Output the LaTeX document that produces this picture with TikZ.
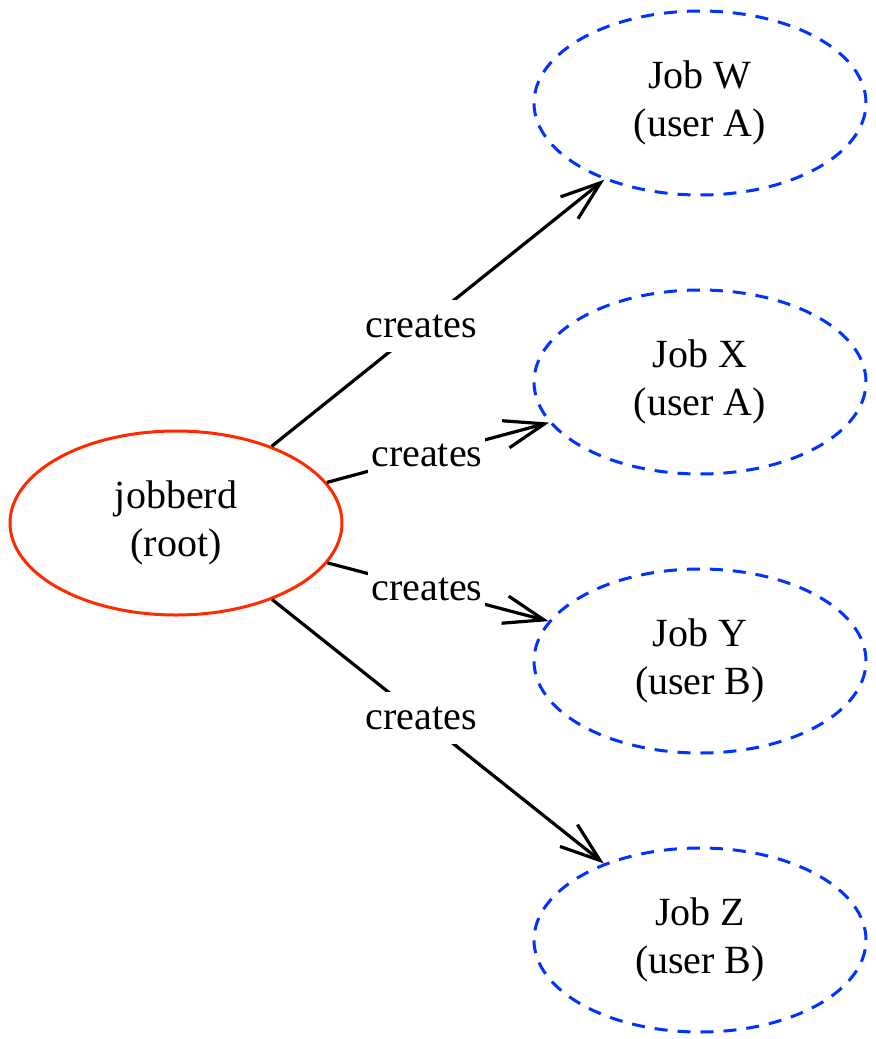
\documentclass[tikz,border=0pt]{standalone}
\usepackage{fontspec}
\setmainfont{Liberation Serif}
\usepackage{xcolor}
\usepackage{tikz}
\usetikzlibrary{positioning,shapes.geometric,arrows.meta}
\definecolor{rootred}{RGB}{255,42,0}
\definecolor{jobblue}{RGB}{0,51,255}

\begin{document}
\begin{tikzpicture}[
x=0.5pt, y=-0.5pt,
every node/.style={font=\fontsize{20}{24}\selectfont},
daemon/.style={ellipse, draw=rootred, line width=1.5pt, minimum width=166pt, minimum height=92pt, align=center},
job/.style={ellipse, draw=jobblue, line width=1.5pt, dash pattern=on 6.5pt off 5pt, minimum width=166pt, minimum height=92pt, align=center},
edge/.style={line width=1.6pt, -{Straight Barb[length=20pt, width=14pt]}},
lbl/.style={fill=white, inner xsep=1.5pt, inner ysep=0pt, minimum height=26pt, pos=0.45},
]
\useasboundingbox (0,0) rectangle (876,1039);

\node[daemon] (jobberd) at (176,523) {jobberd\\(root)};
\node[job] (jobW) at (700,103) {Job W\\(user A)};
\node[job] (jobX) [below=46pt of jobW] {Job X\\(user A)};
\node[job] (jobY) [below=46pt of jobX] {Job Y\\(user B)};
\node[job] (jobZ) [below=46pt of jobY] {Job Z\\(user B)};

\draw[edge] (jobberd) -- node[lbl] {creates} (jobW);
\draw[edge] (jobberd) -- node[lbl] {creates} (jobX);
\draw[edge] (jobberd) -- node[lbl] {creates} (jobY);
\draw[edge] (jobberd) -- node[lbl] {creates} (jobZ);

\end{tikzpicture}
\end{document}
